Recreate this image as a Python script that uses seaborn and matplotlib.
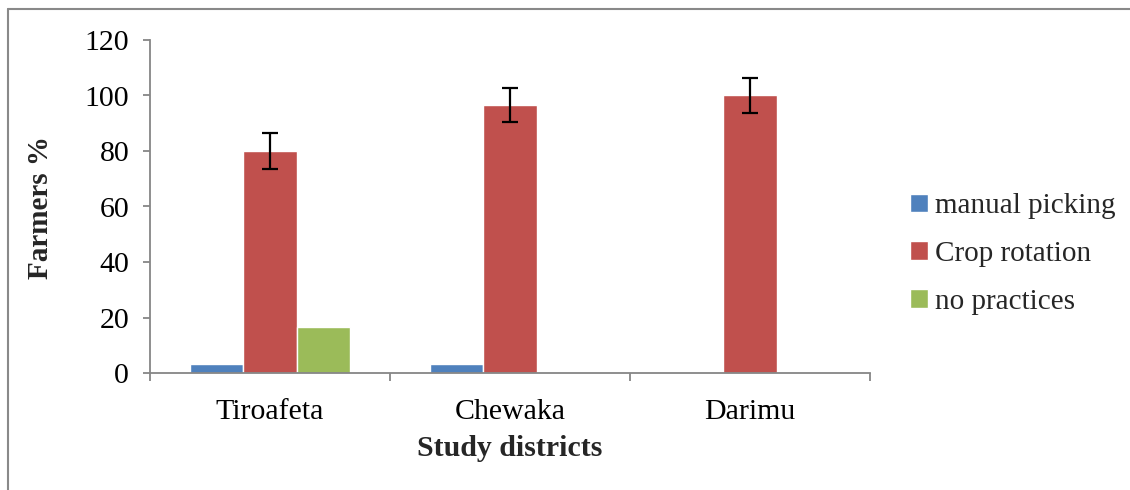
import matplotlib
matplotlib.use("Agg")
import matplotlib.pyplot as plt
import seaborn as sns
import pandas as pd
from matplotlib.lines import Line2D

districts = ["Tiroafeta", "Chewaka", "Darimu"]
practices = ["manual picking", "Crop rotation", "no practices"]
manual_picking = [3.33, 3.33, 0.0]
crop_rotation = [80.0, 96.67, 100.0]
no_practices = [16.67, 0.0, 0.0]
crop_rotation_err = [6.5, 6.2, 6.2]
colors = ["#4F81BD", "#C0504D", "#9BBB59"]

rows = []
for p, vals in zip(practices, [manual_picking, crop_rotation, no_practices]):
    for d, v in zip(districts, vals):
        rows.append({"district": d, "practice": p, "value": v})
df = pd.DataFrame(rows)

sns.set_style("white")
plt.rcParams["font.family"] = ["Liberation Serif", "DejaVu Serif"]

fig = plt.figure(figsize=(11.3, 4.9), dpi=100)
ax = fig.add_axes([150/1130, 1-373/490, 720/1130, 333/490])

sns.barplot(data=df, x="district", y="value", hue="practice", order=districts,
            hue_order=practices, palette=colors, width=0.667, gap=0,
            errorbar=None, saturation=1, ax=ax, legend=True)

# error bars on crop rotation bars
red_patches = ax.containers[1]
xs = [p.get_x() + p.get_width()/2 for p in red_patches]
ax.errorbar(xs, crop_rotation, yerr=crop_rotation_err, fmt="none",
            ecolor="black", elinewidth=1.6, capsize=6, capthick=1.6, zorder=5)

ax.set_xlim(-0.5, 2.5)
ax.set_ylim(0, 120)
ax.set_yticks([0, 20, 40, 60, 80, 100, 120])

spine_c = "#868686"
for s in ["top", "right"]:
    ax.spines[s].set_visible(False)
for s in ["left", "bottom"]:
    ax.spines[s].set_color(spine_c)
    ax.spines[s].set_linewidth(1.3)

ax.tick_params(axis="y", direction="out", length=5, width=1.3, color=spine_c,
               left=True, labelsize=21.5, pad=10, labelcolor="black")
ax.tick_params(axis="x", which="major", length=0, labelsize=21.5, pad=19,
               labelcolor="black")
ax.set_xticks([-0.5, 0.5, 1.5, 2.5], minor=True)
ax.tick_params(axis="x", which="minor", direction="out", length=6, width=1.3,
               color=spine_c, bottom=True)

ax.set_xlabel("Study districts", fontsize=21.5, fontweight="bold")
ax.set_ylabel("Farmers %", fontsize=21, fontweight="bold")
ax.xaxis.set_label_coords(0.5, (373-435)/333)
ax.yaxis.set_label_coords((54-150)/720, (373-207)/333)

handles, labels = ax.get_legend_handles_labels()
ax.legend(handles, labels, loc="center left",
          bbox_to_anchor=(910/1130, 1-254/490), bbox_transform=fig.transFigure,
          frameon=False, fontsize=21, handlelength=0.6, handleheight=0.6,
          handletextpad=0.25, labelspacing=0.75, borderpad=0, borderaxespad=0)

# outer chart border (top and left edges visible)
border_c = "#898989"
fig.add_artist(Line2D([8/1130, 1.0], [1-9/490, 1-9/490], transform=fig.transFigure,
                      color=border_c, lw=1.5))
fig.add_artist(Line2D([8/1130, 8/1130], [0.0, 1-9/490], transform=fig.transFigure,
                      color=border_c, lw=1.5))

fig.savefig("out.png", dpi=100)
